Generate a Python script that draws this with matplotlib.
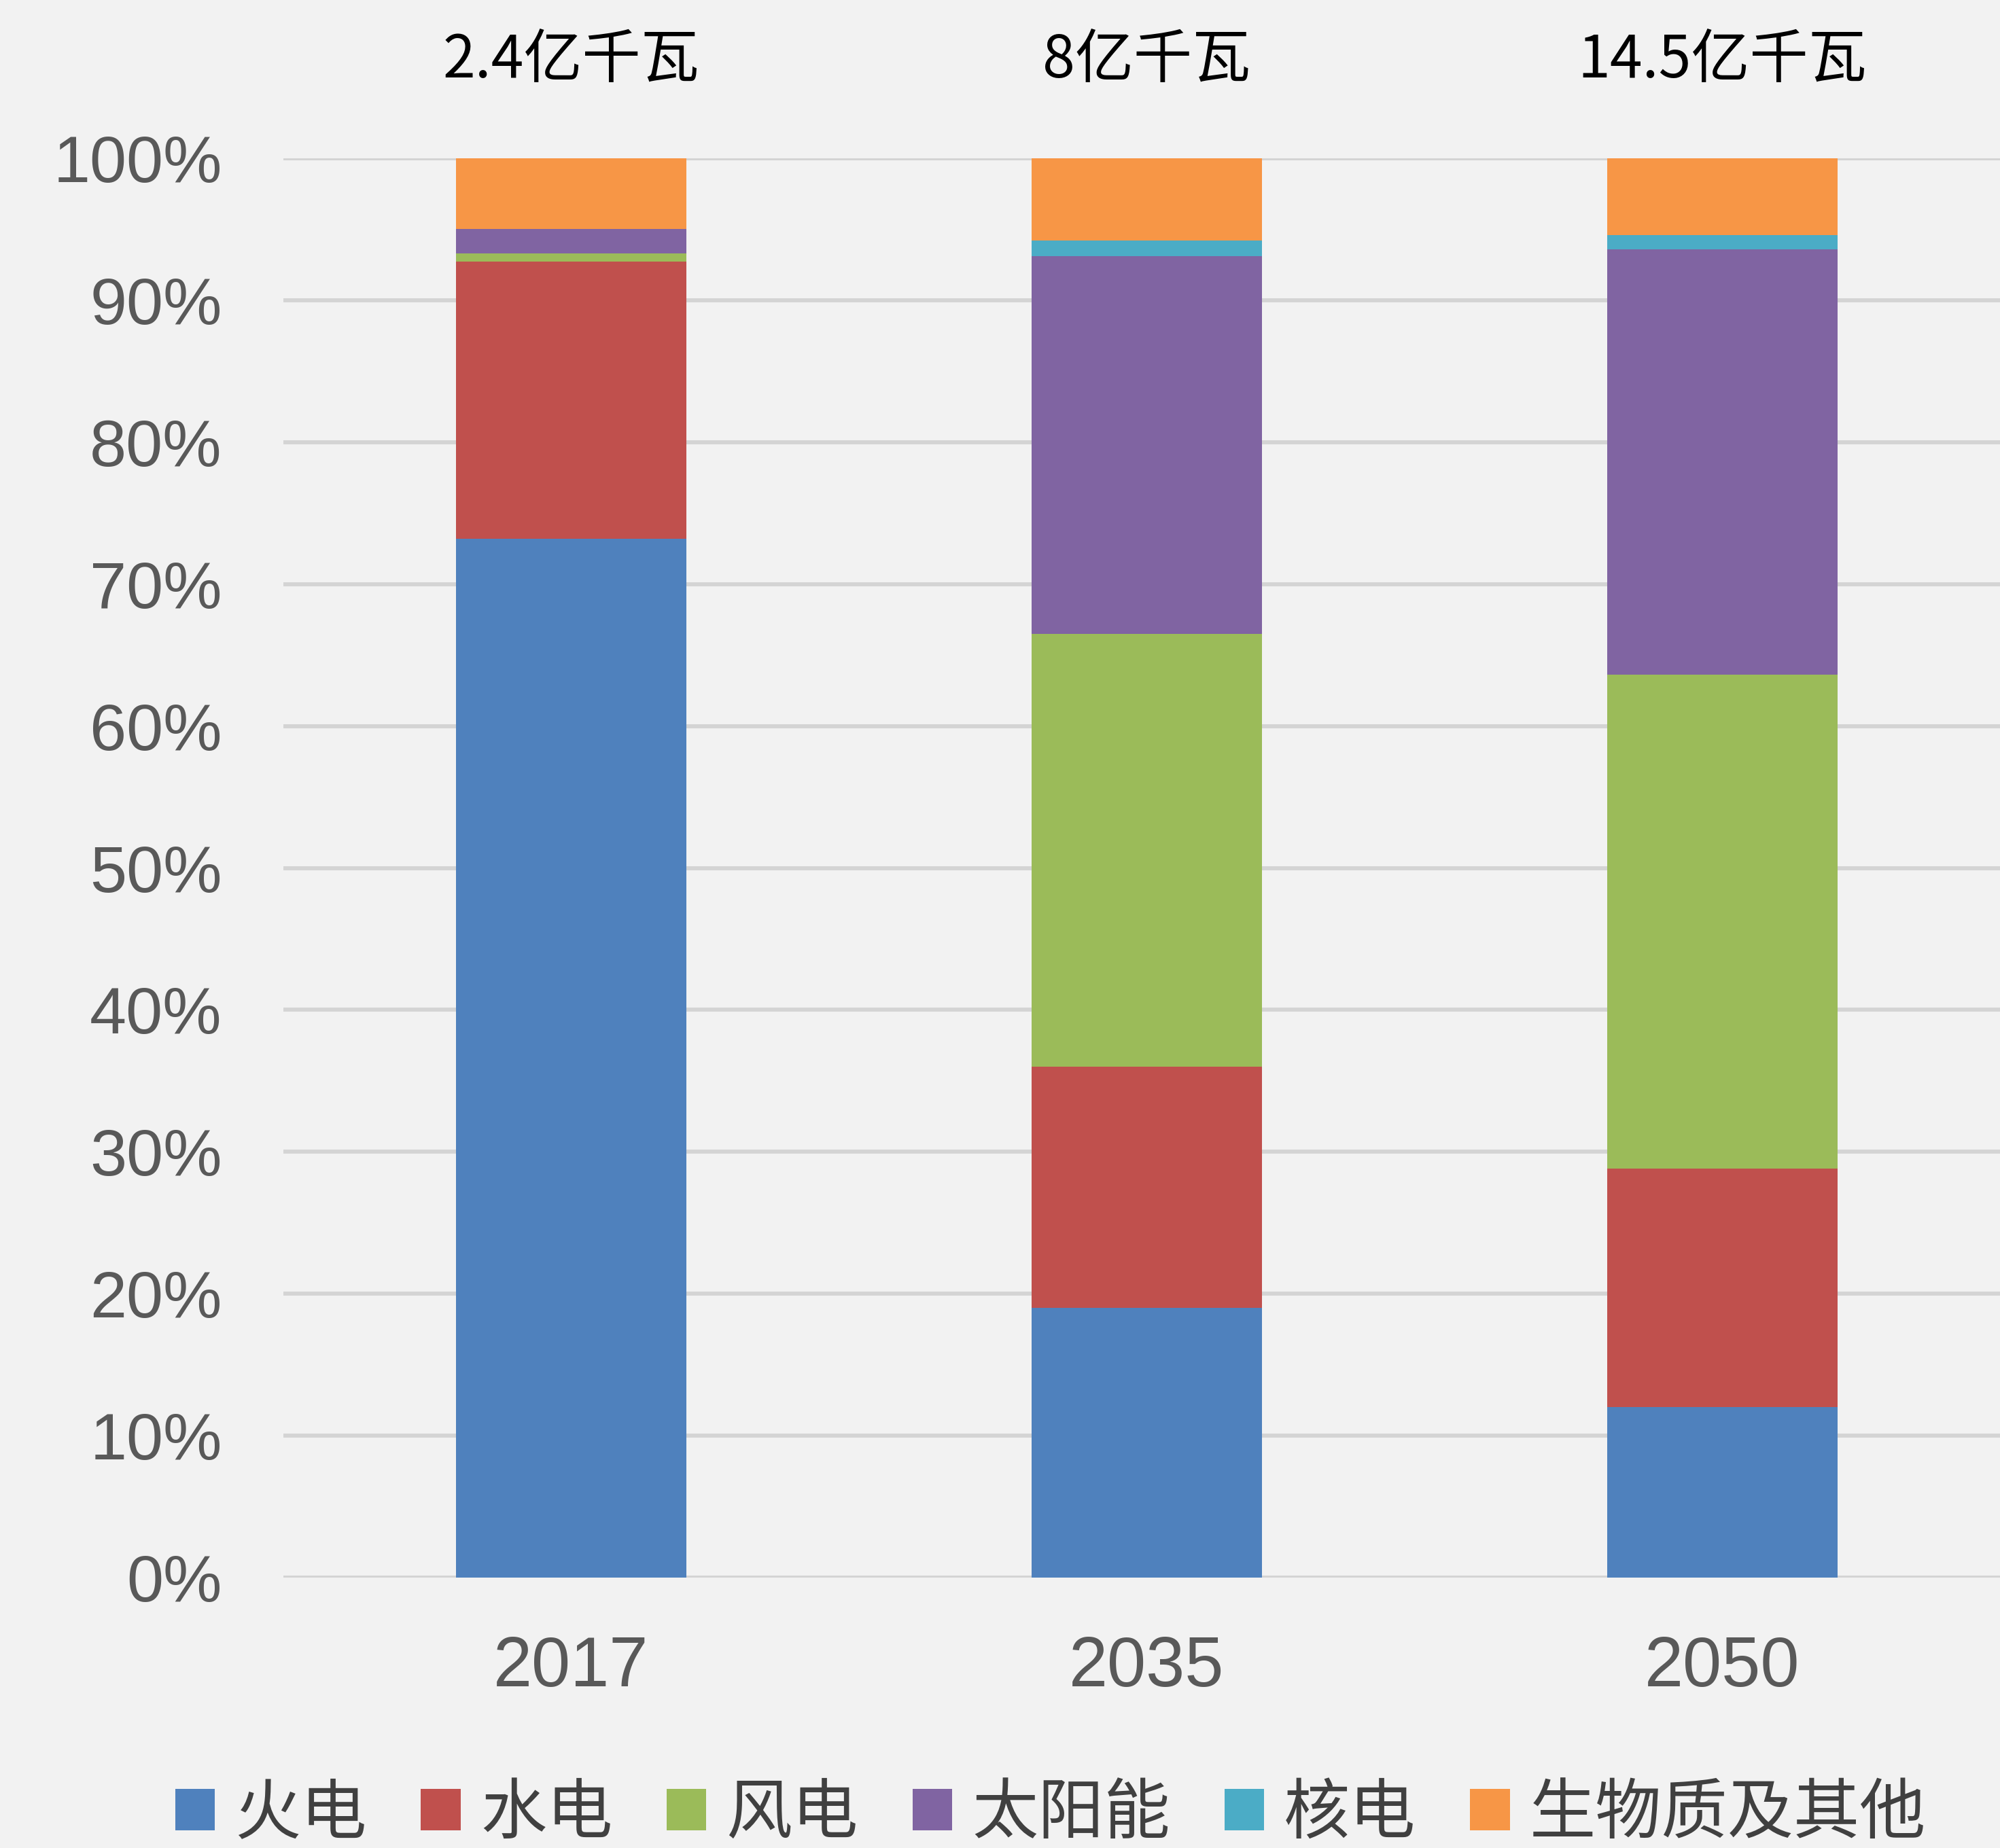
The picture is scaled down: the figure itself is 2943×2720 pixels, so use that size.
import matplotlib
matplotlib.use("Agg")
import matplotlib.pyplot as plt
import matplotlib.transforms as mtransforms
import numpy as np

# Installed capacity mix (%) by year
years = ["2017", "2035", "2050"]
totals = ["2.4亿千瓦", "8亿千瓦", "14.5亿千瓦"]
sources = ["火电", "水电", "风电", "太阳能", "核电", "生物质及其他"]
thermal = [73.2, 19.0, 12.0]
hydro = [19.5, 17.0, 16.8]
wind = [0.6, 30.5, 34.8]
solar = [1.7, 26.6, 30.0]
nuclear = [0.0, 1.1, 1.0]
biomass = [5.0, 5.8, 5.4]
yticks = [0, 10, 20, 30, 40, 50, 60, 70, 80, 90, 100]

series = [thermal, hydro, wind, solar, nuclear, biomass]
colors = ["#4f81bd", "#c0504d", "#9bbb59", "#8064a2", "#4bacc6", "#f79646"]

bg = "#f2f2f2"
W, H, DPI = 2943, 2720, 100
fig = plt.figure(figsize=(W / DPI, H / DPI), dpi=DPI, facecolor=bg)

left, right = 417 / W, 2958 / W
top, bottom = 1 - 233 / H, 1 - 2322 / H
ax = fig.add_axes([left, bottom, right - left, top - bottom], facecolor=bg)

x = np.arange(len(years))
base = np.zeros(len(years))
handles = []
for vals, col, name in zip(series, colors, sources):
    v = np.array(vals)
    b = ax.bar(x, v, bottom=base, width=0.4, color=col, label=name, zorder=3,
               linewidth=0)
    handles.append(b)
    base += v

ax.set_xlim(-0.5, 2.5)
ax.set_ylim(0, 100)
ax.set_yticks(yticks)
ax.set_yticklabels([f"{t}%" for t in yticks], fontfamily="Liberation Sans",
                   fontsize=70, color="#595959")
ax.set_xticks(x)
ax.set_xticklabels(years, fontfamily="Liberation Sans", fontsize=74,
                   color="#595959")
ax.tick_params(axis="y", length=0, pad=65)
ax.tick_params(axis="x", length=0, pad=61)
ax.grid(axis="y", color="#d4d4d4", linewidth=4.3, zorder=0)
ax.set_axisbelow(True)
for s in ax.spines.values():
    s.set_visible(False)

# Total capacity above each bar
trans = mtransforms.blended_transform_factory(ax.transData, fig.transFigure)
for xi, t in zip(x, totals):
    ax.text(xi, 1 - 90 / H, t, transform=trans, ha="center", va="center",
            fontsize=62, color="black", fontfamily="Noto Sans CJK SC")

leg = fig.legend(handles=handles, labels=sources, loc="center",
                 bbox_to_anchor=(1546 / W, 1 - 2670 / H), ncol=6,
                 frameon=False, prop={"family": "Noto Sans CJK SC", "size": 70},
                 handlelength=0.6, handleheight=0.6, handletextpad=0.3,
                 columnspacing=0.82, borderpad=0, borderaxespad=0)
for txt in leg.get_texts():
    txt.set_color("#404040")

fig.savefig("out.png", dpi=DPI, facecolor=bg)
